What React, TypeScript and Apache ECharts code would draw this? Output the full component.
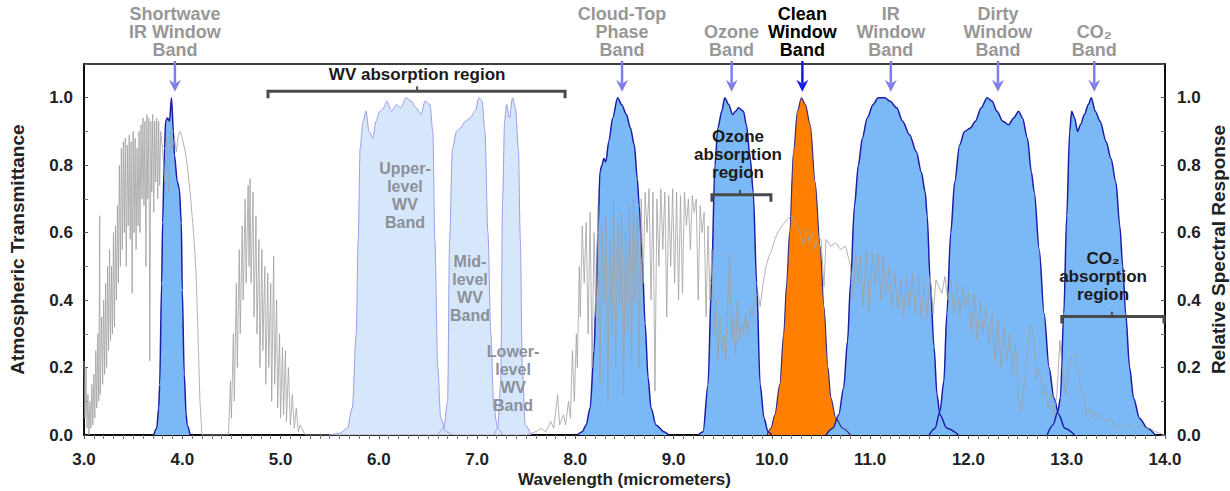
import React, { useEffect, useRef } from "react";
import * as echarts from "echarts";

const FONT = '"Liberation Sans", Arial, Helvetica, sans-serif';

// Axis ranges (micrometers / fraction)
const X_MIN = 3;
const X_MAX = 14;
const X_STEP = 1;
const Y_MIN = 0;
const Y_MAX = 1.1;
const Y_STEP = 0.2;

// Atmospheric transmittance (gray curve) [wavelength, transmittance]
const TRANSMITTANCE: number[][] = [
  [3.0,0.22],[3.01,0.05],[3.02,0.2],[3.03,0.02],[3.04,0.12],[3.05,0.0],[3.06,0.1],[3.07,0.02],[3.08,0.15],[3.09,0.03],
  [3.1,0.18],[3.11,0.05],[3.12,0.25],[3.13,0.08],[3.14,0.3],[3.15,0.1],[3.16,0.65],[3.165,0.12],[3.18,0.35],[3.19,0.15],
  [3.2,0.4],[3.21,0.18],[3.22,0.45],[3.23,0.2],[3.24,0.5],[3.25,0.25],[3.26,0.55],[3.27,0.28],[3.28,0.5],[3.29,0.3],
  [3.3,0.6],[3.31,0.32],[3.32,0.62],[3.33,0.4],[3.34,0.68],[3.35,0.45],[3.36,0.8],[3.37,0.5],[3.38,0.85],[3.39,0.55],
  [3.4,0.87],[3.41,0.6],[3.42,0.88],[3.43,0.5],[3.44,0.86],[3.45,0.62],[3.46,0.89],[3.47,0.58],[3.48,0.87],[3.49,0.42],
  [3.5,0.9],[3.51,0.6],[3.52,0.88],[3.53,0.55],[3.54,0.85],[3.55,0.62],[3.56,0.9],[3.57,0.6],[3.58,0.92],[3.59,0.7],
  [3.6,0.94],[3.61,0.68],[3.62,0.93],[3.63,0.5],[3.64,0.95],[3.65,0.7],[3.66,0.94],[3.67,0.22],[3.68,0.93],[3.69,0.72],
  [3.7,0.95],[3.71,0.66],[3.72,0.93],[3.73,0.75],[3.74,0.94],[3.75,0.7],[3.76,0.93],[3.77,0.74],[3.78,0.9],
  [3.8,0.85],[3.82,0.75],[3.84,0.88],[3.86,0.72],[3.88,0.9],[3.9,0.85],[3.92,0.88],[3.94,0.84],[3.96,0.89],
  [3.98,0.9],[4.0,0.88],[4.03,0.84],[4.05,0.8],[4.08,0.72],[4.1,0.65],[4.12,0.58],[4.14,0.48],[4.16,0.3],[4.18,0.1],[4.2,0.0],
  [4.47,0],[4.49,0.16],[4.5,0.05],[4.52,0.3],[4.53,0.1],[4.55,0.45],[4.56,0.2],[4.58,0.55],[4.59,0.3],[4.61,0.62],
  [4.62,0.4],[4.64,0.7],[4.65,0.45],[4.67,0.74],[4.68,0.5],[4.69,0.76],[4.7,0.45],[4.72,0.72],[4.73,0.35],[4.75,0.65],
  [4.76,0.3],[4.78,0.58],[4.79,0.2],[4.81,0.55],[4.82,0.25],[4.84,0.5],[4.85,0.15],[4.87,0.48],[4.88,0.2],[4.9,0.45],
  [4.91,0.1],[4.93,0.53],[4.94,0.15],[4.96,0.4],[4.97,0.08],[4.99,0.3],[5.0,0.05],[5.02,0.26],[5.03,0.06],[5.05,0.25],
  [5.06,0.04],[5.08,0.2],[5.1,0.03],[5.12,0.12],[5.14,0.02],[5.16,0.08],[5.18,0.01],[5.2,0.03],[5.25,0],
  [7.5,0],[7.6,0.01],[7.65,0.02],[7.7,0.01],[7.75,0.04],[7.78,0.02],[7.82,0.12],[7.84,0.03],[7.88,0.06],[7.9,0.03],
  [7.93,0.1],[7.95,0.05],[7.97,0.25],[7.99,0.1],[8.01,0.3],[8.02,0.2],[8.04,0.5],[8.05,0.35],[8.07,0.62],[8.09,0.45],[8.11,0.63],
  [8.13,0.3],[8.15,0.66],[8.17,0.2],[8.19,0.6],[8.21,0.35],[8.23,0.68],[8.25,0.15],[8.27,0.62],[8.29,0.4],[8.31,0.65],
  [8.33,0.1],[8.35,0.58],[8.37,0.3],[8.39,0.7],[8.41,0.2],[8.43,0.64],[8.45,0.38],[8.47,0.66],[8.49,0.12],[8.51,0.6],
  [8.53,0.3],[8.55,0.68],[8.57,0.22],[8.59,0.7],[8.61,0.4],[8.63,0.66],[8.65,0.2],[8.67,0.7],[8.69,0.45],[8.71,0.72],
  [8.73,0.6],[8.75,0.73],[8.77,0.4],[8.79,0.72],[8.81,0.13],[8.83,0.7],[8.85,0.5],[8.87,0.73],[8.89,0.55],[8.91,0.72],
  [8.93,0.35],[8.95,0.71],[8.97,0.5],[8.99,0.73],[9.01,0.45],[9.03,0.72],[9.05,0.4],[9.07,0.71],[9.09,0.42],[9.11,0.72],
  [9.13,0.62],[9.15,0.7],[9.17,0.55],[9.19,0.71],[9.21,0.66],[9.23,0.7],[9.25,0.4],[9.27,0.68],[9.29,0.6],[9.31,0.66],
  [9.33,0.35],[9.35,0.62],[9.37,0.4],[9.39,0.55],[9.41,0.3],[9.43,0.4],[9.45,0.22],[9.47,0.35],[9.49,0.25],[9.51,0.3],
  [9.53,0.22],[9.55,0.38],[9.57,0.54],[9.59,0.28],[9.61,0.35],[9.63,0.24],[9.65,0.4],[9.67,0.28],[9.69,0.33],[9.71,0.3],
  [9.73,0.36],[9.75,0.3],[9.78,0.38],[9.8,0.35],[9.83,0.4],[9.86,0.42],[9.88,0.38],[9.91,0.45],[9.94,0.5],[9.97,0.53],
  [10.0,0.55],[10.03,0.58],[10.06,0.6],[10.1,0.62],[10.13,0.63],[10.16,0.64],[10.2,0.65],
  [10.25,0.62],[10.29,0.6],[10.32,0.56],[10.35,0.61],[10.38,0.57],[10.41,0.6],[10.44,0.55],[10.47,0.59],[10.5,0.58],[10.53,0.44],
  [10.55,0.58],[10.6,0.56],[10.65,0.57],[10.7,0.55],[10.75,0.56],[10.8,0.5],[10.83,0.4],[10.85,0.54],[10.88,0.45],[10.9,0.53],
  [10.93,0.38],[10.96,0.55],[10.99,0.36],[11.02,0.54],[11.05,0.45],[11.08,0.54],[11.11,0.4],[11.13,0.53],[11.16,0.42],[11.19,0.5],
  [11.22,0.38],[11.25,0.48],[11.28,0.37],[11.31,0.46],[11.34,0.35],[11.37,0.47],[11.4,0.38],[11.43,0.48],[11.46,0.36],[11.49,0.47],
  [11.52,0.34],[11.55,0.45],[11.58,0.35],[11.61,0.47],[11.64,0.36],[11.67,0.46],[11.7,0.44],[11.73,0.42],[11.76,0.47],[11.79,0.4],
  [11.82,0.46],[11.85,0.36],[11.88,0.45],[11.91,0.35],[11.94,0.44],[11.97,0.38],[12.0,0.42],[12.03,0.3],[12.06,0.42],[12.09,0.28],
  [12.12,0.4],[12.15,0.3],[12.18,0.38],[12.21,0.27],[12.24,0.36],[12.27,0.22],[12.3,0.34],[12.33,0.2],[12.36,0.32],[12.39,0.22],
  [12.42,0.3],[12.45,0.18],[12.48,0.27],[12.51,0.1],[12.54,0.07],[12.57,0.15],[12.6,0.25],[12.63,0.33],[12.66,0.3],[12.69,0.17],
  [12.72,0.2],[12.75,0.12],[12.78,0.15],[12.81,0.08],[12.84,0.12],[12.87,0.06],[12.9,0.12],[12.93,0.28],[12.96,0.18],[12.99,0.12],
  [13.02,0.2],[13.05,0.23],[13.08,0.24],[13.11,0.2],[13.14,0.14],[13.17,0.12],[13.2,0.06],[13.23,0.08],[13.26,0.05],[13.3,0.07],
  [13.35,0.05],[13.4,0.04],[13.45,0.05],[13.5,0.02],[13.55,0.03],[13.6,0.02],[13.65,0.03],[13.7,0.02],[13.75,0.03],[13.8,0.02],
  [13.85,0.02],[13.9,0.01],[14.0,0],
];

// Relative spectral response of each band [wavelength, response]
const SHORTWAVE_IR: number[][] = [
  [3.71,0],[3.74,0.02],[3.76,0.08],[3.77,0.15],[3.79,0.45],[3.8,0.63],[3.82,0.85],[3.83,0.93],[3.85,0.94],[3.87,0.93],
  [3.89,1.0],[3.91,0.9],[3.92,0.83],[3.95,0.75],[3.97,0.73],[3.99,0.63],[4.0,0.43],[4.02,0.18],[4.04,0.06],[4.05,0.03],[4.08,0],
];
const UPPER_WV: number[][] = [
  [5.5,0],[5.6,0.005],[5.68,0.02],[5.73,0.08],[5.77,0.3],[5.79,0.58],[5.81,0.85],[5.84,0.93],[5.87,0.96],[5.9,0.9],
  [5.94,0.88],[5.97,0.93],[6.01,0.96],[6.05,0.97],[6.08,0.99],[6.13,0.96],[6.18,0.98],[6.22,0.97],[6.28,1.0],[6.33,0.99],
  [6.38,0.97],[6.43,0.95],[6.47,0.99],[6.52,0.98],[6.55,0.9],[6.57,0.58],[6.6,0.2],[6.63,0.05],[6.68,0.01],[6.75,0],
];
const MID_WV: number[][] = [
  [6.6,0],[6.66,0.02],[6.7,0.1],[6.72,0.58],[6.75,0.85],[6.79,0.9],[6.83,0.91],[6.88,0.93],[6.93,0.94],[6.98,0.96],
  [7.02,1.0],[7.05,0.99],[7.08,0.9],[7.11,0.6],[7.14,0.3],[7.17,0.08],[7.21,0.02],[7.26,0],
];
const LOWER_WV: number[][] = [
  [7.17,0],[7.21,0.02],[7.24,0.15],[7.26,0.7],[7.28,0.93],[7.3,0.98],[7.33,0.94],[7.36,1.0],[7.39,0.97],[7.42,0.85],
  [7.44,0.58],[7.46,0.2],[7.49,0.03],[7.55,0],
];
const CLOUD_TOP: number[][] = [
  [8.02,0],[8.07,0.01],[8.11,0.03],[8.15,0.08],[8.19,0.25],[8.21,0.4],[8.23,0.6],[8.25,0.78],[8.27,0.8],[8.29,0.82],
  [8.31,0.81],[8.34,0.87],[8.38,0.94],[8.43,1.0],[8.47,0.98],[8.52,0.95],[8.56,0.91],[8.6,0.86],[8.63,0.76],[8.65,0.68],
  [8.68,0.52],[8.71,0.33],[8.74,0.17],[8.77,0.08],[8.82,0.03],[8.9,0.01],[8.95,0],
];
const OZONE: number[][] = [
  [9.25,0],[9.3,0.01],[9.35,0.15],[9.385,0.45],[9.42,0.8],[9.45,0.91],[9.49,0.96],[9.52,1.0],[9.56,0.98],[9.6,0.95],
  [9.63,0.96],[9.66,0.97],[9.71,0.96],[9.74,0.92],[9.78,0.82],[9.81,0.72],[9.845,0.45],[9.88,0.15],[9.92,0.05],[9.96,0.01],[10.0,0],
];
const CLEAN_WINDOW: number[][] = [
  [9.95,0],[9.99,0.02],[10.03,0.06],[10.08,0.15],[10.12,0.3],[10.15,0.45],[10.18,0.6],[10.22,0.84],[10.26,0.96],[10.3,1.0],
  [10.34,0.98],[10.39,0.92],[10.44,0.75],[10.49,0.56],[10.53,0.38],[10.57,0.2],[10.6,0.11],[10.65,0.05],[10.72,0.02],[10.8,0],
];
const IR_WINDOW: number[][] = [
  [10.55,0],[10.62,0.02],[10.68,0.06],[10.73,0.14],[10.77,0.28],[10.8,0.45],[10.84,0.68],[10.88,0.8],[10.92,0.88],[10.97,0.94],
  [11.03,0.98],[11.08,1.0],[11.15,1.0],[11.2,0.99],[11.27,0.97],[11.33,0.93],[11.4,0.89],[11.47,0.84],[11.52,0.78],[11.56,0.72],
  [11.58,0.65],[11.61,0.46],[11.65,0.26],[11.68,0.12],[11.71,0.06],[11.78,0.02],[11.9,0],
];
const DIRTY_WINDOW: number[][] = [
  [11.6,0],[11.66,0.02],[11.71,0.07],[11.75,0.16],[11.78,0.36],[11.82,0.6],[11.86,0.75],[11.91,0.86],[11.96,0.9],[12.02,0.91],
  [12.07,0.93],[12.13,0.97],[12.19,1.0],[12.24,0.99],[12.29,0.96],[12.35,0.93],[12.41,0.92],[12.46,0.94],[12.51,0.96],[12.55,0.94],
  [12.6,0.88],[12.64,0.78],[12.67,0.72],[12.72,0.55],[12.77,0.36],[12.82,0.2],[12.87,0.11],[12.92,0.06],[12.98,0.02],[13.08,0],
];
const CO2_BAND: number[][] = [
  [12.8,0],[12.86,0.03],[12.91,0.07],[12.935,0.11],[12.97,0.36],[13.0,0.65],[13.03,0.9],[13.05,0.96],[13.08,0.94],[13.11,0.9],
  [13.14,0.92],[13.18,0.95],[13.22,0.98],[13.25,1.0],[13.29,0.96],[13.34,0.93],[13.4,0.87],[13.45,0.82],[13.5,0.75],[13.54,0.62],
  [13.57,0.5],[13.6,0.36],[13.64,0.2],[13.68,0.11],[13.74,0.05],[13.82,0.02],[13.9,0],
];

// Annotation anchors (wavelength / value)
const TOP_LABELS = [
  { text: "Shortwave\nIR Window\nBand", at: 3.925, strong: false },
  { text: "Cloud-Top\nPhase\nBand", at: 8.475, strong: false },
  { text: "Ozone\nBand", at: 9.59, strong: false },
  { text: "Clean\nWindow\nBand", at: 10.31, strong: true },
  { text: "IR\nWindow\nBand", at: 11.21, strong: false },
  { text: "Dirty\nWindow\nBand", at: 12.3, strong: false },
  { text: "CO\u2082\nBand", at: 13.28, strong: false },
];
const BRACKETS = [
  { from: 4.872, to: 7.895, level: 1.019, mid: 6.39, text: "WV absorption region", textAt: 6.39, textLevel: 1.068 },
  { from: 9.39, to: 9.99, level: 0.712, mid: 9.675, text: "Ozone\nabsorption\nregion", textAt: 9.655, textLevel: 0.831 },
  { from: 12.95, to: 14.0, level: 0.351, mid: 13.46, text: "CO\u2082\nabsorption\nregion", textAt: 13.37, textLevel: 0.469 },
];
const WV_LABELS = [
  { text: "Upper-\nlevel\nWV\nBand", at: 6.266, level: 0.709 },
  { text: "Mid-\nlevel\nWV\nBand", at: 6.928, level: 0.435 },
  { text: "Lower-\nlevel\nWV\nBand", at: 7.366, level: 0.168 },
];

const BLUE_FILL = "#7bb9f6";
const BLUE_EDGE = "#1c1ca6";
const WV_FILL = "#d6e7fb";
const WV_EDGE = "#9c9ce8";
const ORANGE_FILL = "#ff8000";

function bandSeries(name: string, data: number[][], fill: string, edge: string, width: number) {
  return {
    name,
    type: "line",
    yAxisIndex: 1,
    data,
    showSymbol: false,
    smooth: 0.3,
    smoothMonotone: "x",
    lineStyle: { color: edge, width },
    areaStyle: { color: fill, opacity: 1 },
    z: 2,
    silent: true,
  };
}

const tickFmt = (v: number) => (v > Y_MAX - 0.05 ? "" : v.toFixed(1));
const labelStyle = { fontSize: 17, fontWeight: "bold", color: "#222", fontFamily: FONT };
const nameStyle = { fontSize: 19, fontWeight: "bold", color: "#222", fontFamily: FONT };

export default function App() {
  const ref = useRef<HTMLDivElement>(null);
  useEffect(() => {
    if (!ref.current) return;
    const chart = echarts.init(ref.current, null, { renderer: "svg" });
    const yAxisBase = {
      type: "value",
      min: Y_MIN,
      max: Y_MAX,
      interval: Y_STEP,
      splitLine: { show: false },
      axisLine: { show: true, lineStyle: { color: "#000", width: 1.5 } },
      axisTick: { show: true, inside: true, length: 4, lineStyle: { color: "#555" } },
      minorTick: { show: true, splitNumber: 2, length: 4, lineStyle: { color: "#777" } },
      nameLocation: "middle",
      nameRotate: 90,
      nameMoveOverlap: false,
      nameTextStyle: nameStyle,
    };
    chart.setOption({
      animation: false,
      backgroundColor: "#fff",
      grid: {
        left: 84, right: 65, top: 64, bottom: 56,
        containLabel: false, outerBoundsMode: "none",
        show: true, borderColor: "#000", borderWidth: 1.5,
      },
      xAxis: {
        type: "value",
        min: X_MIN,
        max: X_MAX,
        interval: X_STEP,
        splitLine: { show: false },
        axisLine: { show: true, lineStyle: { color: "#000", width: 1.5 } },
        axisTick: { show: true, length: 4, lineStyle: { color: "#555" } },
        minorTick: { show: true, splitNumber: 10, length: 4, lineStyle: { color: "#777" } },
        axisLabel: { ...labelStyle, margin: 16, formatter: (v: number) => v.toFixed(1) },
        name: "Wavelength (micrometers)",
        nameLocation: "middle",
        nameGap: 36,
        nameMoveOverlap: false,
        nameTextStyle: { ...nameStyle, fontSize: 17 },
      },
      yAxis: [
        { ...yAxisBase, position: "left", name: "Atmospheric Transmittance", nameGap: 57,
          axisLabel: { ...labelStyle, margin: 11, formatter: tickFmt } },
        { ...yAxisBase, position: "right", name: "Relative Spectral Response", nameGap: 44,
          axisLabel: { ...labelStyle, margin: 12, formatter: tickFmt } },
      ],
      series: [
        bandSeries("Shortwave IR Window Band", SHORTWAVE_IR, BLUE_FILL, BLUE_EDGE, 1.5),
        bandSeries("Upper-level WV Band", UPPER_WV, WV_FILL, WV_EDGE, 1),
        bandSeries("Mid-level WV Band", MID_WV, WV_FILL, WV_EDGE, 1),
        bandSeries("Lower-level WV Band", LOWER_WV, WV_FILL, WV_EDGE, 1),
        bandSeries("Cloud-Top Phase Band", CLOUD_TOP, BLUE_FILL, BLUE_EDGE, 1.5),
        bandSeries("Ozone Band", OZONE, BLUE_FILL, BLUE_EDGE, 1.5),
        bandSeries("Clean Window Band", CLEAN_WINDOW, ORANGE_FILL, "#3a2a80", 1.2),
        bandSeries("IR Window Band", IR_WINDOW, BLUE_FILL, BLUE_EDGE, 1.5),
        bandSeries("Dirty Window Band", DIRTY_WINDOW, BLUE_FILL, BLUE_EDGE, 1.5),
        bandSeries("CO2 Band", CO2_BAND, BLUE_FILL, BLUE_EDGE, 1.5),
        {
          name: "Atmospheric Transmittance",
          type: "line",
          yAxisIndex: 0,
          data: TRANSMITTANCE,
          showSymbol: false,
          lineStyle: { color: "#a0a0a0", width: 1, opacity: 0.8 },
          z: 3,
          silent: true,
        },
      ],
    });

    const px = (x: number) => chart.convertToPixel({ xAxisIndex: 0 }, x) as number;
    const py = (y: number) => chart.convertToPixel({ yAxisIndex: 0 }, y) as number;
    const top = py(Y_MAX);
    const graphics: any[] = [];

    TOP_LABELS.forEach((l) => {
      const x = px(l.at);
      graphics.push({
        type: "text",
        x,
        y: top - 5,
        z: 100,
        style: {
          text: l.text,
          fill: l.strong ? "#000" : "#979797",
          font: `bold 18px ${FONT}`,
          textAlign: "center",
          align: "center",
          textVerticalAlign: "bottom",
          verticalAlign: "bottom",
          lineHeight: 18,
        },
      });
      const color = l.strong ? "#1818e6" : "#7f7fea";
      const tip = py(1.018);
      graphics.push({
        type: "line",
        z: 100,
        shape: { x1: x, y1: top - 3, x2: x, y2: tip - 8 },
        style: { stroke: color, lineWidth: 2.5 },
      });
      graphics.push({
        type: "polygon",
        z: 100,
        shape: { points: [[x - 6, tip - 12], [x, tip - 8], [x + 6, tip - 12], [x, tip]] },
        style: { fill: color },
      });
    });

    BRACKETS.forEach((b) => {
      const y = py(b.level);
      const x1 = px(b.from);
      const x2 = Math.min(px(b.to), px(X_MAX) - 1);
      const xm = px(b.mid);
      graphics.push({
        type: "polyline",
        z: 100,
        shape: { points: [[x1, y + 7], [x1, y], [x2, y], [x2, y + 7]] },
        style: { stroke: "#4a4a4a", lineWidth: 3, fill: null },
      });
      graphics.push({
        type: "line",
        z: 100,
        shape: { x1: xm, y1: y, x2: xm, y2: y - 5 },
        style: { stroke: "#4a4a4a", lineWidth: 2 },
      });
      graphics.push({
        type: "text",
        x: px(b.textAt),
        y: py(b.textLevel),
        z: 100,
        style: {
          text: b.text,
          fill: "#1a1a1a",
          font: `bold 17px ${FONT}`,
          textAlign: "center",
          align: "center",
          textVerticalAlign: "middle",
          verticalAlign: "middle",
          lineHeight: 18,
        },
      });
    });

    WV_LABELS.forEach((w) => {
      graphics.push({
        type: "text",
        x: px(w.at),
        y: py(w.level),
        z: 100,
        style: {
          text: w.text,
          fill: "#8c8f99",
          font: `bold 16px ${FONT}`,
          textAlign: "center",
          align: "center",
          textVerticalAlign: "middle",
          verticalAlign: "middle",
          lineHeight: 18,
        },
      });
    });

    chart.setOption({ graphic: { elements: graphics } });
    return () => chart.dispose();
  }, []);

  return (
    <div
      ref={ref}
      style={{ position: "absolute", left: 0, top: 0, width: 1230, height: 491, background: "#fff" }}
    />
  );
}
